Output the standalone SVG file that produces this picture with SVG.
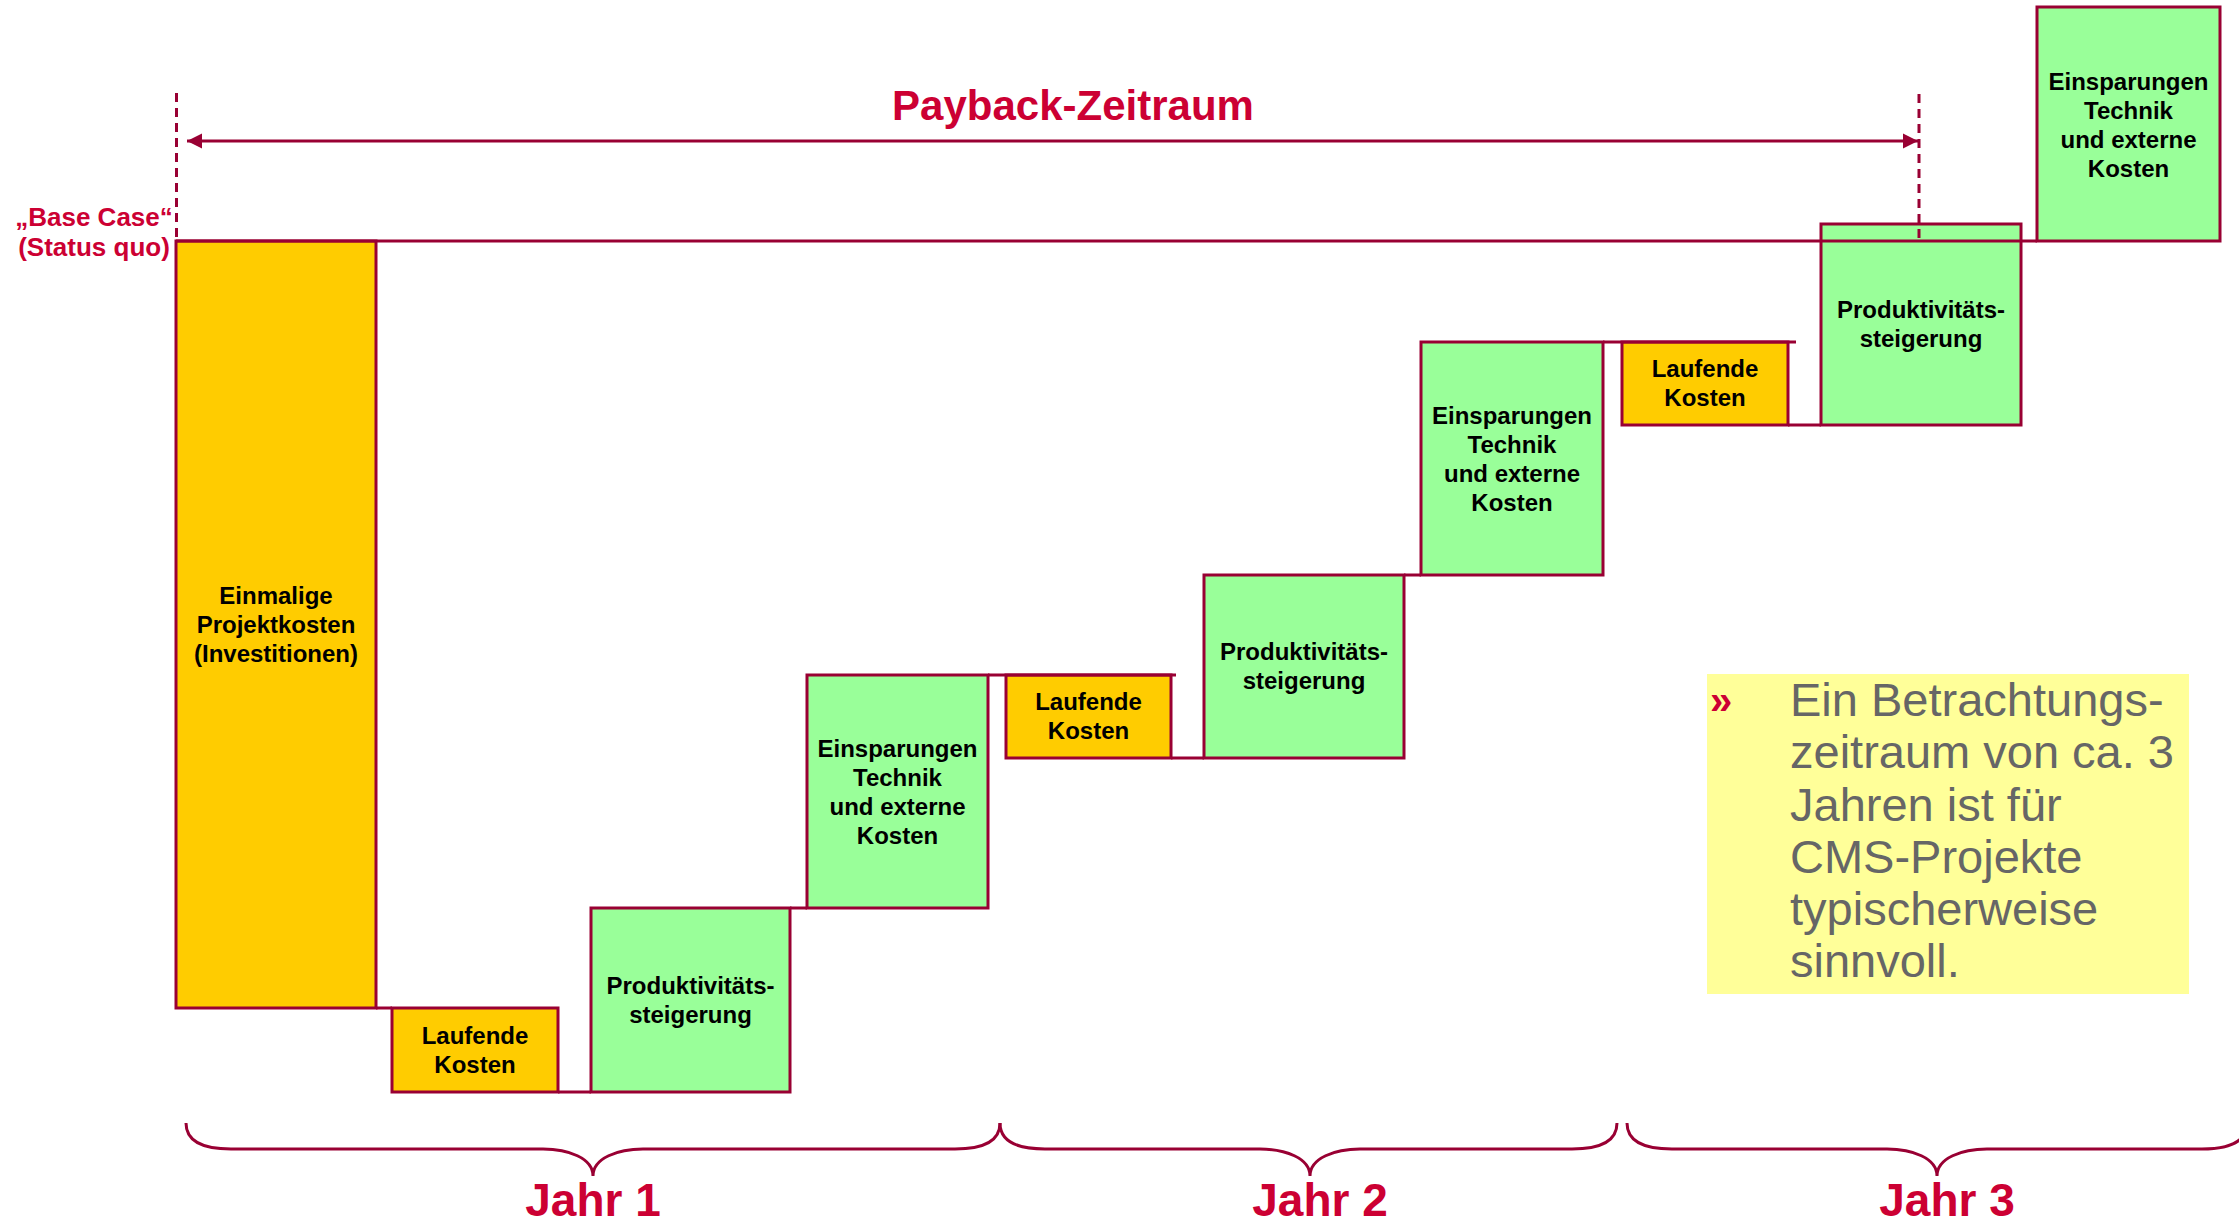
<svg xmlns="http://www.w3.org/2000/svg" width="2239" height="1226" viewBox="0 0 2239 1226">
<style>
  .box { stroke: #990033; stroke-width: 3; }
  .yel { fill: #FFCC00; }
  .grn { fill: #99FF99; }
  .lbl { font-family: "Liberation Sans", Arial, sans-serif; font-weight: bold; font-size: 24px; fill: #000; text-anchor: middle; }
  .red { font-family: "Liberation Sans", Arial, sans-serif; font-weight: bold; fill: #CC0033; }
  .conn { stroke: #990033; stroke-width: 3; fill: none; }
  .dash { stroke: #990033; stroke-width: 3; stroke-dasharray: 9 6; fill: none; }
  .brace { stroke: #990033; stroke-width: 3; fill: none; }
  .note { font-family: "Liberation Sans", Arial, sans-serif; font-size: 47px; fill: #666666; }
</style>
<defs>
  <marker id="ah" markerUnits="userSpaceOnUse" markerWidth="16" markerHeight="16" refX="15" refY="8" orient="auto-start-reverse" viewBox="0 0 16 16">
    <path d="M0,0.5 L15,8 L0,15.5 Z" fill="#990033"/>
  </marker>
</defs>

<!-- title -->
<text class="red" x="1073" y="120" font-size="42" text-anchor="middle">Payback-Zeitraum</text>

<!-- base case label -->
<text class="red" x="94" y="226" font-size="26" text-anchor="middle">„Base Case“</text>
<text class="red" x="94" y="256" font-size="26" text-anchor="middle">(Status quo)</text>

<!-- nodes -->
<g id="n-einmalig">
  <rect class="box yel" x="176" y="241" width="200" height="767"/>
  <text class="lbl" x="276" y="604">Einmalige</text>
  <text class="lbl" x="276" y="633">Projektkosten</text>
  <text class="lbl" x="276" y="662">(Investitionen)</text>
</g>
<g id="n-laufend1">
  <rect class="box yel" x="392" y="1008" width="166" height="84"/>
  <text class="lbl" x="475" y="1044">Laufende</text>
  <text class="lbl" x="475" y="1073">Kosten</text>
</g>
<g id="n-prod1">
  <rect class="box grn" x="591" y="908" width="199" height="184"/>
  <text class="lbl" x="690.5" y="994">Produktivitäts-</text>
  <text class="lbl" x="690.5" y="1023">steigerung</text>
</g>
<g id="n-einsp1">
  <rect class="box grn" x="807" y="675" width="181" height="233"/>
  <text class="lbl" x="897.5" y="757">Einsparungen</text>
  <text class="lbl" x="897.5" y="786">Technik</text>
  <text class="lbl" x="897.5" y="815">und externe</text>
  <text class="lbl" x="897.5" y="844">Kosten</text>
</g>
<g id="n-laufend2">
  <rect class="box yel" x="1006" y="675" width="165" height="83"/>
  <text class="lbl" x="1088.5" y="710">Laufende</text>
  <text class="lbl" x="1088.5" y="739">Kosten</text>
</g>
<g id="n-prod2">
  <rect class="box grn" x="1204" y="575" width="200" height="183"/>
  <text class="lbl" x="1304" y="660">Produktivitäts-</text>
  <text class="lbl" x="1304" y="689">steigerung</text>
</g>
<g id="n-einsp2">
  <rect class="box grn" x="1421" y="342" width="182" height="233"/>
  <text class="lbl" x="1512" y="424">Einsparungen</text>
  <text class="lbl" x="1512" y="453">Technik</text>
  <text class="lbl" x="1512" y="482">und externe</text>
  <text class="lbl" x="1512" y="511">Kosten</text>
</g>
<g id="n-laufend3">
  <rect class="box yel" x="1622" y="342" width="166" height="83"/>
  <text class="lbl" x="1705" y="377">Laufende</text>
  <text class="lbl" x="1705" y="406">Kosten</text>
</g>
<g id="n-prod3">
  <rect class="box grn" x="1821" y="224" width="200" height="201"/>
  <text class="lbl" x="1921" y="318">Produktivitäts-</text>
  <text class="lbl" x="1921" y="347">steigerung</text>
</g>
<g id="n-einsp3">
  <rect class="box grn" x="2037" y="7" width="183" height="234"/>
  <text class="lbl" x="2128.5" y="90">Einsparungen</text>
  <text class="lbl" x="2128.5" y="119">Technik</text>
  <text class="lbl" x="2128.5" y="148">und externe</text>
  <text class="lbl" x="2128.5" y="177">Kosten</text>
</g>

<!-- connectors -->
<g id="connectors">
  <line class="conn" x1="176" y1="241" x2="2037" y2="241"/>
  <line class="conn" x1="376" y1="1008" x2="392" y2="1008"/>
  <line class="conn" x1="558" y1="1092" x2="591" y2="1092"/>
  <line class="conn" x1="790" y1="908" x2="807" y2="908"/>
  <line class="conn" x1="988" y1="675" x2="1176" y2="675"/>
  <line class="conn" x1="1171" y1="758" x2="1204" y2="758"/>
  <line class="conn" x1="1404" y1="575" x2="1421" y2="575"/>
  <line class="conn" x1="1603" y1="342" x2="1796" y2="342"/>
  <line class="conn" x1="1788" y1="425" x2="1821" y2="425"/>
  <line class="dash" x1="176.5" y1="93" x2="176.5" y2="241"/>
  <line class="dash" x1="1919" y1="94" x2="1919" y2="241"/>
  <line class="conn" x1="187" y1="141" x2="1918" y2="141" marker-start="url(#ah)" marker-end="url(#ah)"/>
  <path class="brace" d="M186,1123 C186,1140 201,1149 231,1149 L543,1149 C568,1149 593,1158 593,1176 C593,1158 618,1149 643,1149 L955,1149 C985,1149 1000,1140 1000,1123"/>
  <path class="brace" d="M1000,1123 C1000,1140 1015,1149 1045,1149 L1260,1149 C1285,1149 1310,1158 1310,1176 C1310,1158 1335,1149 1360,1149 L1572,1149 C1602,1149 1617,1140 1617,1123"/>
  <path class="brace" d="M1627,1123 C1627,1140 1642,1149 1672,1149 L1887,1149 C1912,1149 1937,1158 1937,1176 C1937,1158 1962,1149 1987,1149 L2202,1149 C2232,1149 2247,1140 2247,1123"/>
</g>

<!-- year labels -->
<text class="red" x="593" y="1216" font-size="46" text-anchor="middle">Jahr 1</text>
<text class="red" x="1320" y="1216" font-size="46" text-anchor="middle">Jahr 2</text>
<text class="red" x="1947" y="1216" font-size="46" text-anchor="middle">Jahr 3</text>

<!-- note -->
<g id="n-note">
  <rect x="1707" y="674" width="482" height="320" fill="#FFFF99"/>
  <text class="red" x="1710" y="714" font-size="40">»</text>
  <text class="note" x="1790" y="716">Ein Betrachtungs-</text>
  <text class="note" x="1790" y="768">zeitraum von ca. 3</text>
  <text class="note" x="1790" y="821">Jahren ist für</text>
  <text class="note" x="1790" y="873">CMS-Projekte</text>
  <text class="note" x="1790" y="925">typischerweise</text>
  <text class="note" x="1790" y="977">sinnvoll.</text>
</g>
</svg>
